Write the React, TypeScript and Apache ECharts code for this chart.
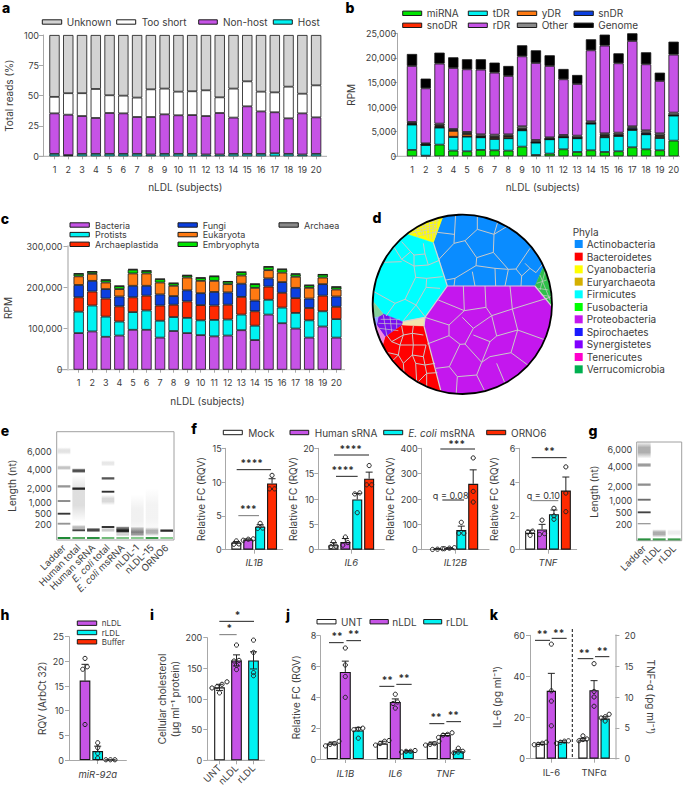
import React, { useEffect, useRef } from "react";
import * as echarts from "echarts";

const FONT = "Inter";
const TXT = "#3c3c3c";
const AX = "#a8a8a8";
const PURPLE = "#c653e6";
const CYAN = "#00f2f2";
const RED = "#ff2a00";
const GREEN = "#00e400";
const ORANGE = "#ff7a12";
const BLUE = "#0b3fe0";
const SUBJECTS = Array.from({ length: 20 }, (_, i) => String(i + 1));

// panel a
const aHost = [2, 1, 2, 2, 2, 2, 2, 1.5, 2, 2, 2, 1.5, 1.5, 2, 2, 2, 2.5, 2, 1.5, 2];
const aNonHost = [33.4, 33.3, 31.2, 29.6, 33.7, 33.4, 30.4, 30.9, 32.6, 31.8, 32, 31.7, 34.2, 29.9, 39.2, 35, 33.8, 29.3, 33.9, 30.1];
const aTooShort = [13.6, 17.7, 18.8, 23.9, 14.6, 14.6, 16, 22.8, 21.2, 19.5, 19.6, 21.2, 12.9, 23.9, 20.6, 16.3, 16.4, 26.1, 16.2, 26.4];
const aUnknown = [51, 48, 48, 44.5, 49.7, 50, 51.6, 44.8, 44.2, 46.7, 46.4, 45.6, 51.4, 44.2, 38.2, 46.7, 47.3, 42.6, 48.4, 41.5];

// panel b
const bMiRNA = [1290, 130, 2370, 1150, 1020, 1290, 1220, 1150, 1960, 270, 540, 1420, 880, 1220, 880, 1020, 1830, 1420, 1220, 3180];
const bTDR = [5150, 2170, 3460, 2780, 2980, 2570, 2300, 2510, 3320, 2510, 2920, 2440, 2780, 5420, 2980, 3110, 3520, 3050, 2510, 5090];
const bSnoDR = [40, 20, 60, 40, 30, 30, 50, 40, 40, 20, 20, 20, 40, 20, 60, 30, 50, 50, 40, 30];
const bYDR = [100, 80, 250, 1200, 500, 100, 300, 350, 200, 40, 40, 40, 60, 30, 250, 150, 100, 80, 350, 30];
const bSnDR = [100, 40, 150, 80, 100, 80, 80, 60, 100, 60, 60, 60, 40, 40, 150, 100, 300, 230, 120, 30];
const bOther = [300, 200, 350, 300, 320, 400, 450, 360, 480, 420, 280, 360, 400, 380, 350, 400, 300, 450, 430, 520];
const bRDR = [11380, 11180, 12190, 12400, 12730, 13150, 12600, 11860, 14220, 15650, 14500, 11310, 10500, 14430, 17820, 14090, 17340, 13420, 10640, 11780];
const bGenome = [2440, 1970, 2240, 2170, 2040, 2100, 2040, 2030, 2240, 2570, 2170, 2100, 1830, 2240, 2240, 2030, 1560, 2440, 1690, 2640];

// panel c (thousands of RPM)
const cBacteria = [89, 93, 80, 83, 97, 97, 78, 94, 89, 84, 81, 83, 96, 72, 134, 113, 100, 78, 105, 78];
const cProtists = [52, 63, 49, 34, 43, 47, 41, 34, 37, 36, 40, 39, 38, 35, 36, 38, 38, 42, 37, 45];
const cArchaeplastida = [35, 34, 44, 37, 36, 36, 37, 30, 40, 37, 35, 36, 43, 35, 32, 36, 36, 30, 38, 30];
const cFungi = [30, 26, 23, 24, 28, 24, 27, 21, 27, 29, 33, 30, 32, 26, 20, 26, 25, 23, 28, 25];
const cEukaryota = [21, 17, 16, 18, 30, 30, 29, 25, 31, 30, 27, 20, 20, 31, 20, 23, 27, 26, 16, 17];
const cEmbryophyta = [6, 5, 6, 7, 9, 6, 8, 6, 5, 7, 11, 6, 8, 9, 8, 8, 6, 6, 7, 6];
const cArchaea = [1, 1, 1, 1, 2, 1, 1, 1, 1, 1, 1, 1, 1, 1, 1, 1, 2, 1, 1, 1];

// panel d: cells of the tessellated circle
const phyla: [string, string][] = [
  ["Actinobacteria", "#0a8cff"], ["Bacteroidetes", "#ff0000"], ["Cyanobacteria", "#ffff00"], ["Euryarchaeota", "#d4b000"],
  ["Firmicutes", "#00ffff"], ["Fusobacteria", "#00ff00"], ["Proteobacteria", "#c417ee"], ["Spirochaetes", "#1a1aff"],
  ["Synergistetes", "#8000ff"], ["Tenericutes", "#ff00cc"], ["Verrucomicrobia", "#00b050"],
];
const dRegions: [string, number[][]][] = [
  ["#0a8cff", [[277, 55], [270, 20], [400, 0], [600, 100], [620, 185], [578, 205], [555, 258], [292, 258], [250, 128]]],
  ["#ffff00", [[277, 55], [250, 128], [172, 103], [200, 60], [270, 20]]],
  ["#00ffff", [[172, 103], [250, 128], [292, 258], [225, 352], [158, 365], [100, 342], [70, 305], [30, 250], [100, 120]]],
  ["#2fc04a", [[578, 205], [555, 258], [606, 320], [640, 300], [620, 185]]],
  ["#c417ee", [[292, 258], [555, 258], [606, 320], [640, 320], [600, 500], [400, 620], [280, 620], [272, 570], [222, 378], [225, 352]]],
  ["#ff0000", [[155, 375], [222, 378], [272, 570], [280, 620], [100, 520], [70, 440], [98, 435], [105, 410]]],
  ["#f3e3ae", [[158, 365], [225, 352], [222, 378], [155, 375]]],
  ["#7a10ee", [[100, 342], [158, 365], [155, 375], [105, 410], [80, 375], [85, 350]]],
  ["#86cf9a", [[70, 305], [30, 310], [60, 355], [85, 350], [100, 342]]],
  ["#93a8ff", [[85, 350], [60, 355], [70, 395], [82, 395], [80, 375]]],
  ["#f08ae0", [[80, 375], [82, 395], [70, 395], [85, 445], [98, 435], [105, 410]]],
];
const dMajorEdges: number[][][] = [
  [[340, 258], [343, 332]], [[405, 258], [408, 322]], [[480, 258], [487, 327]], [[343, 332], [408, 322]], [[408, 322], [425, 347]],
  [[425, 347], [487, 327]], [[487, 327], [600, 292]], [[487, 327], [503, 390]], [[503, 390], [600, 425]], [[503, 390], [440, 408]],
  [[425, 347], [440, 408]], [[343, 332], [265, 300]], [[343, 332], [297, 375]], [[297, 375], [225, 352]], [[370, 385], [425, 347]],
  [[337, 352], [370, 385]], [[370, 385], [345, 432]], [[297, 375], [297, 407]], [[297, 407], [330, 433]], [[330, 433], [345, 432]],
  [[297, 407], [232, 432]], [[330, 433], [298, 500]], [[345, 432], [395, 487]], [[395, 487], [420, 425]], [[440, 408], [420, 425]],
  [[420, 425], [370, 405]], [[420, 470], [395, 487]], [[420, 470], [483, 458]], [[483, 458], [540, 500]], [[483, 458], [503, 390]],
  [[395, 487], [380, 525]], [[380, 525], [322, 530]], [[298, 500], [322, 530]], [[298, 500], [258, 505]], [[322, 530], [318, 590]],
  [[380, 525], [405, 575]], [[440, 490], [465, 550]],
  [[317, 40], [312, 130]], [[382, 40], [382, 88]], [[382, 88], [345, 122]], [[312, 130], [345, 122]], [[262, 97], [312, 103]],
  [[445, 60], [432, 103]], [[382, 88], [432, 103]], [[432, 103], [478, 75]], [[345, 122], [380, 173]], [[312, 130], [265, 180]],
  [[380, 173], [430, 157]], [[430, 157], [432, 103]], [[430, 157], [475, 208]], [[380, 173], [378, 197]], [[378, 197], [435, 205]],
  [[435, 205], [437, 258]], [[435, 205], [475, 208]], [[378, 197], [315, 235]], [[315, 235], [288, 240]], [[315, 235], [312, 258]],
  [[367, 215], [375, 258]], [[475, 208], [465, 258]], [[475, 208], [498, 207]], [[498, 207], [540, 145]], [[498, 207], [515, 228]],
  [[515, 228], [513, 258]], [[515, 228], [540, 205]], [[540, 205], [558, 218]], [[558, 218], [578, 192]], [[540, 205], [525, 190]],
  [[182, 155], [155, 178]], [[155, 178], [128, 135]], [[182, 155], [155, 125]], [[192, 165], [225, 162]], [[220, 130], [225, 162]],
  [[225, 162], [235, 195]], [[192, 165], [192, 198]], [[182, 155], [192, 165]], [[192, 198], [235, 195]], [[235, 195], [270, 180]],
  [[155, 178], [192, 198]], [[155, 185], [100, 187]], [[192, 198], [197, 232]], [[197, 232], [165, 298]], [[197, 232], [230, 235]],
  [[230, 235], [278, 230]], [[230, 235], [228, 262]], [[228, 262], [270, 265]], [[228, 262], [198, 315]], [[198, 315], [165, 298]],
  [[165, 298], [135, 310]], [[135, 310], [72, 275]], [[135, 310], [108, 348]], [[198, 315], [225, 350]], [[198, 315], [160, 362]],
  [[190, 378], [187, 400]], [[155, 378], [160, 405]], [[160, 405], [187, 400]], [[187, 400], [220, 405]], [[160, 405], [125, 425]],
  [[125, 425], [110, 405]], [[125, 425], [150, 435]], [[160, 405], [150, 435]], [[150, 435], [145, 465]], [[187, 400], [190, 435]],
  [[190, 435], [150, 435]], [[190, 435], [228, 435]], [[145, 465], [115, 458]], [[190, 435], [187, 465]], [[187, 465], [220, 470]],
  [[220, 470], [228, 435]], [[187, 465], [160, 490]], [[145, 465], [160, 490]], [[145, 465], [130, 480]], [[160, 490], [162, 518]],
  [[187, 465], [197, 490]], [[197, 490], [225, 495]], [[220, 470], [225, 495]], [[225, 495], [255, 490]], [[197, 490], [200, 545]],
  [[225, 495], [230, 520]], [[230, 520], [205, 545]], [[230, 520], [262, 518]], [[230, 520], [230, 565]],
];
const dMinorEdges: number[][][] = [
  [[205, 75], [215, 100]], [[225, 65], [232, 115]], [[250, 60], [248, 118]], [[190, 90], [255, 80]], [[200, 108], [262, 95]], [[215, 78], [262, 72]],
  [[190, 78], [205, 112]], [[215, 60], [222, 110]], [[238, 58], [240, 118]], [[262, 58], [255, 110]], [[180, 100], [262, 85]], [[205, 68], [268, 62]],
  [[85, 370], [155, 372]], [[100, 345], [110, 405]], [[120, 350], [125, 395]], [[140, 360], [140, 385]], [[88, 385], [145, 392]], [[92, 358], [150, 358]],
  [[560, 250], [590, 240]], [[570, 225], [600, 300]], [[565, 265], [595, 270]], [[585, 215], [570, 270]], [[575, 285], [605, 290]],
];

// panel e
const eLanes = ["Ladder", "Human total", "Human sRNA", "{i|E. coli} total", "{i|E. coli} msRNA", "nLDL-1", "nLDL-15", "ORNO6"];
const eBands = [
  [0, 168, 0.12, 10], [0, 218, 0.25, 6], [0, 274, 0.45, 4], [0, 318, 0.5, 3], [0, 356, 0.85, 3], [0, 386, 0.45, 3],
  [1, 227, 0.75, 6], [1, 281, 0.92, 4], [1, 310, 0.14, 70], [1, 398, 0.3, 7], [1, 406, 0.8, 3],
  [2, 405, 0.78, 6], [3, 205, 0.1, 8], [3, 250, 0.72, 4], [3, 290, 0.88, 3], [3, 315, 0.16, 14], [3, 396, 0.9, 3], [3, 405, 0.22, 6],
  [4, 400, 0.6, 5], [4, 407, 0.95, 6], [4, 418, 0.2, 5], [5, 405, 0.35, 9], [5, 415, 0.45, 9], [5, 360, 0.06, 60],
  [6, 410, 0.32, 12], [6, 350, 0.05, 70], [7, 407, 0.9, 4],
];
const eGreens = [[0, "#1f8a36"], [1, "#58ab62"], [2, "#2a9040"], [3, "#72bb7a"], [4, "#7fc487"], [5, "#8acb90"], [6, "#3f9c4e"], [7, "#8acb90"]];
const eTicks: [string, number][] = [["6,000", 168], ["4,000", 223], ["2,000", 280], ["1,000", 321], ["500", 356], ["200", 388]];

// panel g
const gLanes = ["Ladder", "nLDL", "rLDL"];
const gBands = [
  [0, 165, 0.34, 24], [0, 210, 0.42, 6], [0, 269, 0.48, 4], [0, 314, 0.62, 3], [0, 352, 0.8, 3], [0, 386, 0.42, 2],
  [1, 415, 0.35, 11], [2, 413, 0.08, 9],
];
const gGreens = [[0, "#2a9040"], [1, "#3f9c4e"], [2, "#3f9c4e"]];
const gTicks: [string, number][] = [["6,000", 162], ["4,000", 213], ["2,000", 274], ["1,000", 316], ["500", 352], ["200", 388]];

// panel f
const fGroups = [["Mock", "#ffffff"], ["Human sRNA", PURPLE], ["E. coli msRNA", CYAN], ["ORNO6", RED]];
const fIL1B = [1.05, 1.5, 3.4, 9.8];
const fIL1BErr = [0.15, 0.1, 0.3, 0.7];
const fIL1BPts = [[0.8, 0.85, 1.3], [1.4, 1.55, 1.6], [3.15, 3.2, 3.9], [9, 9, 11]];
const fIL6 = [0.9, 1.5, 9.9, 14];
const fIL6Err = [0.5, 0.7, 1.2, 1.3];
const fIL6Pts = [[0.6, 0.7, 1.6], [0.9, 1.4, 2.5], [7.3, 11, 11.2], [12.8, 12.8, 16.6]];
const fIL12B = [3, 6, 78, 260];
const fIL12BErr = [2, 2, 15, 55];
const fIL12BPts = [[1, 2, 4], [4, 6, 8], [65, 65, 108], [188, 230, 362]];
const fTNF = [1.0, 1.2, 2.1, 3.5];
const fTNFErr = [0.15, 0.3, 0.25, 0.8];
const fTNFPts = [[0.85, 1.05, 1.1], [0.9, 0.95, 1.75], [1.8, 2, 2.45], [2.25, 3.35, 4.9]];

// panel h
const hGroups = [["nLDL", PURPLE], ["rLDL", CYAN], ["Buffer", RED]];
const hValues = [16.1, 1.8, 0.05];
const hErr = [3.3, 1.0, 0];
const hPts = [[7.2, 18.4, 18.9, 20.6], [0.4, 1.35, 2.5, 3.5], [0.05, 0.05, 0.05]];

// panel i
const iCats = ["UNT", "nLDL", "rLDL"];
const iValues = [119, 163, 163];
const iErr = [5, 9, 14];
const iPts = [[110, 118, 120, 124, 128], [148, 155, 162, 163, 188], [138, 143, 176, 196]];

// panel j
const jCats = ["IL1B", "IL6", "TNF"];
const jUNT = [1, 1, 1];
const jNLDL = [5.65, 3.7, 1.55];
const jRLDL = [1.85, 0.5, 0.5];
const jUNTErr = [0.1, 0.15, 0.1];
const jNLDLErr = [0.7, 0.2, 0.1];
const jRLDLErr = [0.2, 0.05, 0.1];
const jUNTPts = [[0.85, 0.95, 1, 1.15], [0.9, 1, 1.15, 1.2], [0.9, 0.95, 1, 1.15]];
const jNLDLPts = [[4.0, 5.35, 6.1, 7.2], [3.3, 3.6, 3.7, 4.2], [1.4, 1.55, 1.6, 1.7]];
const jRLDLPts = [[1.35, 1.9, 1.95, 2.0], [0.45, 0.5, 0.5, 0.55], [0.4, 0.45, 0.5, 0.7]];

// panel k
const kCats = ["IL-6", "TNFα"];
const kIL6 = [7.2, 33, 8.2];
const kIL6Err = [0.5, 8.5, 0.5];
const kIL6Pts = [[6.8, 7, 7.5, 8], [16, 28, 33, 55.7], [7.5, 8, 8.5, 8.7]];
const kTNF = [3.0, 11.1, 6.5];
const kTNFErr = [0.3, 1.55, 0.3];
const kTNFPts = [[2.9, 3.1, 3.2, 3.7], [8.5, 10, 10.9, 15.4], [6.1, 6.6, 6.8, 7.2]];

const thousands = (v: number) => v.toLocaleString("en-US");

function buildOption() {
  const grid: any[] = [];
  const xAxis: any[] = [];
  const yAxis: any[] = [];
  const series: any[] = [];
  const graphic: any[] = [];

  const text = (x: number, y: number, t: string, o: any = {}) =>
    graphic.push({
      type: "text", x, y, rotation: o.rotation || 0, silent: true,
      style: {
        text: t, fill: o.fill || TXT, fontFamily: FONT, fontSize: o.size || 10, fontWeight: o.weight || 400,
        fontStyle: o.italic ? "italic" : "normal", align: o.align || "left", verticalAlign: "middle",
      },
    });
  const hline = (x1: number, x2: number, y: number, stroke = AX, lineWidth = 1) =>
    graphic.push({ type: "line", silent: true, shape: { x1, y1: y, x2, y2: y }, style: { stroke, lineWidth } });
  const swatch = (x0: number, x1: number, y: number, color: string) =>
    graphic.push({
      type: "rect", silent: true, shape: { x: x0, y: y - 2.2, width: x1 - x0, height: 4.4 },
      style: { fill: color, stroke: "#1a1a1a", lineWidth: 1 },
    });
  const legend = (x0: number, x1: number, tx: number, y: number, color: string, t: string, size = 10) => {
    swatch(x0, x1, y, color);
    text(tx, y, t, { size });
  };
  const panelLabel = (x: number, y: number, t: string) =>
    text(x, y, t, { size: 14, weight: 800, fill: "#000", align: "center" });
  const sig = (ox: number, oy: number, r: any[]) => {
    const [x1, x2, y, tx, ty, t, col] = r;
    hline(ox + x1 / 3, ox + x2 / 3, oy + y / 3, col || "#222", 1);
    const star = t[0] === "*";
    text(ox + tx / 3, oy + ty / 3 + (star ? 2 : 0), t, { align: "center", size: star ? 10 : 9, weight: star ? 700 : 400, fill: "#333" });
  };

  const yAxisBase = (g: number, o: any) => ({
    gridIndex: g, type: "value", min: 0, max: o.yMax, interval: o.yInterval,
    position: o.yPos || "left", offset: o.yOffset || 0, splitLine: { show: false },
    axisLine: { show: true, lineStyle: { color: o.yLine || AX, width: o.yLineW || 1 } },
    axisTick: { show: true, length: 4, lineStyle: { color: AX } },
    axisLabel: { color: TXT, fontFamily: FONT, fontSize: 9, margin: o.yMargin ?? 4, formatter: o.yFmt || thousands },
    name: o.yName, nameLocation: "middle", nameGap: o.yNameGap, nameRotate: o.yPos === "right" ? -90 : 90,
    nameTextStyle: { color: TXT, fontFamily: FONT, fontSize: 10, lineHeight: 13 },
  });

  // stacked-bar panels a, b, c
  const stacked = (o: any) => {
    const g = grid.length;
    grid.push({ left: o.left, top: o.top, width: o.width, height: o.height });
    xAxis.push({
      gridIndex: g, type: "category", data: SUBJECTS,
      axisLine: { show: false }, axisTick: { show: true, alignWithLabel: true, length: 3, lineStyle: { color: AX } },
      axisLabel: { interval: 0, color: TXT, fontFamily: FONT, fontSize: 9, margin: o.xMargin ?? 8.5 },
      name: "nLDL (subjects)", nameLocation: "middle", nameGap: o.xNameGap,
      nameTextStyle: { color: TXT, fontFamily: FONT, fontSize: 10 },
    });
    yAxis.push(yAxisBase(g, o));
    hline(o.xLine[0], o.xLine[1], o.top + o.height);
    o.series.forEach((s: any) =>
      series.push({
        type: "bar", name: s[0], xAxisIndex: g, yAxisIndex: g, stack: "s" + g, barWidth: 10.3, data: s[2],
        itemStyle: { color: s[1], borderColor: "#141414", borderWidth: 0.8 },
      }),
    );
  };

  const errSeries = (g: number, n: number, step: number, rows: number[][], both: boolean) =>
    series.push({
      type: "custom", xAxisIndex: g, yAxisIndex: g, data: rows, encode: { x: 0, y: 1 }, z: 5, silent: true,
      renderItem: (_: any, api: any) => {
        const c = api.value(0), v = api.value(1), i = api.value(2), e = api.value(3);
        const dx = (i - (n - 1) / 2) * step;
        const p0 = api.coord([c, both ? v - e : v]);
        const p1 = api.coord([c, v + e]);
        const x = p0[0] + dx;
        const st = { stroke: "#222", lineWidth: 1, fill: "none" };
        const ch: any[] = [
          { type: "line", shape: { x1: x, y1: p0[1], x2: x, y2: p1[1] }, style: st },
          { type: "line", shape: { x1: x - 3.5, y1: p1[1], x2: x + 3.5, y2: p1[1] }, style: st },
        ];
        if (both) ch.push({ type: "line", shape: { x1: x - 3.5, y1: p0[1], x2: x + 3.5, y2: p0[1] }, style: st });
        return { type: "group", children: ch };
      },
    });

  const ptSeries = (g: number, n: number, step: number, rows: number[][]) =>
    series.push({
      type: "custom", xAxisIndex: g, yAxisIndex: g, data: rows, encode: { x: 0, y: 1 }, z: 6, silent: true,
      renderItem: (_: any, api: any) => {
        const p = api.coord([api.value(0), api.value(1)]);
        return {
          type: "circle",
          shape: { cx: p[0] + (api.value(2) - (n - 1) / 2) * step + api.value(3), cy: p[1], r: 2.1 },
          style: { fill: "none", stroke: "#222", lineWidth: 1 },
        };
      },
    });

  // spread points that nearly coincide sideways
  const spread = (vals: number[], perPx: number, sep: number) => {
    const sorted = [...vals].sort((a, b) => a - b);
    const out: [number, number][] = [];
    let i = 0;
    while (i < sorted.length) {
      let j = i + 1;
      while (j < sorted.length && (sorted[j] - sorted[j - 1]) / perPx < 3) j++;
      const m = j - i;
      for (let k = i; k < j; k++) out.push([sorted[k], (k - i - (m - 1) / 2) * sep]);
      i = j;
    }
    return out;
  };

  // grouped-bar panels f, h, i, j, k
  const grouped = (o: any) => {
    const g = grid.length;
    const height = o.bottom - o.top;
    grid.push({ left: o.left, top: o.top, width: o.right - o.left, height });
    xAxis.push({
      gridIndex: g, type: "category", data: o.cats, show: !o.hideX,
      axisLine: { show: !o.hideLine, lineStyle: { color: AX } },
      axisTick: { show: !o.hideTicks, alignWithLabel: true, length: 4, lineStyle: { color: AX } },
      axisLabel: {
        interval: 0, color: TXT, fontFamily: FONT, fontSize: o.xSize || 9.5, fontStyle: o.italic ? "italic" : "normal",
        rotate: o.rotate || 0, margin: o.xMargin ?? 8,
      },
    });
    yAxis.push(yAxisBase(g, o));
    const n = o.groups.length;
    const errRows: number[][] = [];
    const ptRows: number[][] = [];
    o.groups.forEach((gr: any, i: number) => {
      series.push({
        type: "bar", name: gr.name, xAxisIndex: g, yAxisIndex: g, barWidth: o.barWidth,
        barGap: ((o.step - o.barWidth) / o.barWidth) * 100 + "%",
        itemStyle: { color: gr.color, borderColor: "#141414", borderWidth: 1.1 },
        data: gr.values.map((v: any, c: number) =>
          gr.colors ? { value: v, itemStyle: { color: gr.colors[c], borderColor: "#141414", borderWidth: 1.1 } } : v,
        ),
      });
      gr.values.forEach((v: any, c: number) => {
        if (v == null) return;
        const e = gr.errors[c];
        if (e > 0) errRows.push([c, v, i, e]);
        spread(gr.points[c], o.yMax / height, o.sep || 5).forEach(([val, d]) => ptRows.push([c, val, i, d]));
      });
    });
    errSeries(g, n, o.step, errRows, !!o.errBoth);
    ptSeries(g, n, o.step, ptRows);
  };

  const gel = (o: any) => {
    const g = grid.length;
    grid.push({ left: o.left, top: o.top, width: o.width, height: o.height, show: true, borderColor: "#a0a0a0", borderWidth: 1, backgroundColor: "#fff", z: 1 });
    xAxis.push({
      gridIndex: g, type: "category", data: o.lanes, axisLine: { show: false }, axisTick: { show: false },
      axisLabel: {
        interval: 0, rotate: 45, margin: 6, color: TXT, fontFamily: FONT, fontSize: 9.5,
        rich: { i: { fontStyle: "italic", color: TXT, fontFamily: FONT, fontSize: 9.5 } },
      },
    });
    yAxis.push({ gridIndex: g, type: "value", min: o.yMin, max: o.yMax, inverse: true, show: false, splitLine: { show: false } });
    series.push({
      type: "custom", xAxisIndex: g, yAxisIndex: g, data: o.bands, encode: { x: 0, y: 1 }, silent: true, clip: true,
      renderItem: (_: any, api: any) => {
        const v = api.value(1), d = api.value(2), h = api.value(3) + 1.5;
        const top = api.coord([api.value(0), v - h]);
        const bot = api.coord([api.value(0), v + h]);
        const w = api.size([1, 0])[0] * 0.86;
        return {
          type: "rect", shape: { x: top[0] - w / 2, y: top[1], width: w, height: bot[1] - top[1] },
          style: {
            fill: new echarts.graphic.LinearGradient(0, 0, 0, 1, [
              { offset: 0, color: "rgba(20,20,20,0)" }, { offset: 0.35, color: `rgba(20,20,20,${d})` },
              { offset: 0.65, color: `rgba(20,20,20,${d})` }, { offset: 1, color: "rgba(20,20,20,0)" },
            ]),
          },
        };
      },
    });
    series.push({
      type: "custom", xAxisIndex: g, yAxisIndex: g, data: o.greens.map((r: any) => [r[0], o.greenY, r[1]]), encode: { x: 0, y: 1 }, silent: true,
      renderItem: (_: any, api: any) => {
        const p = api.coord([api.value(0), api.value(1)]);
        const w = api.size([1, 0])[0] * 0.86;
        return { type: "rect", shape: { x: p[0] - w / 2, y: p[1] - 1, width: w, height: 2 }, style: { fill: o.greens[api.value(0)][1] } };
      },
    });
    o.ticks.forEach((t: any) => text(o.tickX, o.oy + t[1] / 3, t[0], { size: 9, align: "right" }));
    text(o.titleX, o.titleY, "Length (nt)", { rotation: Math.PI / 2, align: "center" });
  };

  // ---- panel a
  stacked({
    left: 47.6, width: 275.4, top: 35, height: 121.3, yMax: 100, yInterval: 25, yOffset: 4.6, yName: "Total reads (%)", yNameGap: 27.5,
    yMargin: 4, xNameGap: 26, xLine: [39, 327],
    series: [["Host", CYAN, aHost], ["Non-host", PURPLE, aNonHost], ["Too short", "#ffffff", aTooShort], ["Unknown", "#d3d3d3", aUnknown]],
  });
  legend(42.3, 61.7, 66.7, 22, "#d3d3d3", "Unknown");
  legend(116.7, 135.7, 141.7, 22, "#ffffff", "Too short");
  legend(198.7, 217.3, 223, 22, PURPLE, "Non-host");
  legend(273.3, 292.3, 297.7, 22, CYAN, "Host");

  // ---- panel b
  stacked({
    left: 405.1, width: 275.4, top: 33.3, height: 123, yMax: 25000, yInterval: 5000, yOffset: 8, yName: "RPM", yNameGap: 40,
    yMargin: 1, xNameGap: 26, xLine: [393, 680],
    series: [
      ["miRNA", GREEN, bMiRNA], ["tDR", CYAN, bTDR], ["snoDR", RED, bSnoDR], ["yDR", ORANGE, bYDR], ["snDR", BLUE, bSnDR],
      ["Other", "#8a8a8a", bOther], ["rDR", PURPLE, bRDR], ["Genome", "#000000", bGenome],
    ],
  });
  const bLegendX = [[402.7, 421.7, 426.7], [468.3, 487.3, 492.7], [517.3, 536.7, 541.7], [574, 593.3, 598.3]];
  const bLegendRows: [string, string][][] = [
    [["miRNA", GREEN], ["tDR", CYAN], ["yDR", ORANGE], ["snDR", BLUE]],
    [["snoDR", RED], ["rDR", PURPLE], ["Other", "#8a8a8a"], ["Genome", "#000000"]],
  ];
  bLegendRows.forEach((row, r) =>
    row.forEach((it, i) => legend(bLegendX[i][0], bLegendX[i][1], bLegendX[i][2], r === 0 ? 13.3 : 25.3, it[1], it[0])),
  );

  // ---- panel c
  const k = (a: number[]) => a.map((v) => v * 1000);
  stacked({
    left: 67.1, width: 276, top: 246.3, height: 123.4, yMax: 300000, yInterval: 100000, yOffset: 4.4, yName: "RPM", yNameGap: 53.5,
    yMargin: 5, yLine: "#cfcfcf", yLineW: 2, xNameGap: 26, xMargin: 8, xLine: [58, 345],
    series: [
      ["Bacteria", PURPLE, k(cBacteria)], ["Protists", CYAN, k(cProtists)], ["Archaeplastida", RED, k(cArchaeplastida)],
      ["Fungi", BLUE, k(cFungi)], ["Eukaryota", ORANGE, k(cEukaryota)], ["Embryophyta", GREEN, k(cEmbryophyta)], ["Archaea", "#8a8a8a", k(cArchaea)],
    ],
  });
  legend(70, 89.3, 95, 225, PURPLE, "Bacteria", 9);
  legend(70, 89.3, 95, 234.6, CYAN, "Protists", 9);
  legend(70, 89.3, 95, 244.3, RED, "Archaeplastida", 9);
  legend(178, 197.3, 202.7, 225, BLUE, "Fungi", 9);
  legend(178, 197.3, 202.7, 234.6, ORANGE, "Eukaryota", 9);
  legend(178, 197.3, 202.7, 244.3, GREEN, "Embryophyta", 9);
  legend(279, 298.3, 304, 225, "#8a8a8a", "Archaea", 9);

  // ---- panel d
  const dg = grid.length;
  grid.push({ left: 350, top: 200, width: 335, height: 210 });
  xAxis.push({ gridIndex: dg, type: "value", min: 0, max: 1005, show: false, splitLine: { show: false } });
  yAxis.push({ gridIndex: dg, type: "value", min: 0, max: 630, inverse: true, show: false, splitLine: { show: false } });
  series.push({
    type: "custom", xAxisIndex: dg, yAxisIndex: dg, data: [[337, 313]], encode: { x: 0, y: 1 }, silent: true,
    renderItem: (_: any, api: any) => {
      const c = api.coord([337, 313]);
      const r = 269 / 3;
      const pts = (a: number[][]) => a.map((p) => api.coord(p));
      const kids: any[] = [];
      dRegions.forEach(([col, poly]) => kids.push({ type: "polygon", shape: { points: pts(poly) }, style: { fill: col, stroke: col, lineWidth: 0.4 } }));
      dMajorEdges.forEach((e) => kids.push({ type: "polyline", shape: { points: pts(e) }, style: { stroke: "#c9c9c9", lineWidth: 1, fill: "none" } }));
      dMinorEdges.forEach((e) => kids.push({ type: "polyline", shape: { points: pts(e) }, style: { stroke: "#c9c9c9", lineWidth: 0.7, fill: "none" } }));
      const boundaries = [[[292, 258], [555, 258]], [[292, 258], [250, 128]], [[292, 258], [225, 352]], [[225, 352], [222, 378]], [[222, 378], [272, 570]], [[158, 365], [225, 352]], [[555, 258], [606, 320]]];
      boundaries.forEach((e) => kids.push({ type: "polyline", shape: { points: pts(e) }, style: { stroke: "#d4d4d4", lineWidth: 1.2, fill: "none" } }));
      return {
        type: "group",
        children: [
          { type: "group", children: kids, clipPath: { type: "circle", shape: { cx: c[0], cy: c[1], r } } },
          { type: "circle", shape: { cx: c[0], cy: c[1], r }, style: { fill: "none", stroke: "#000", lineWidth: 1.8 } },
        ],
      };
    },
  });
  text(572.7, 232.3, "Phyla");
  const phylaY = [132, 170, 208, 245, 283, 321, 358, 396, 433, 471, 508];
  phyla.forEach(([name, col], i) => {
    const y = 200 + phylaY[i] / 3;
    graphic.push({ type: "rect", silent: true, shape: { x: 574.7, y: y - 4, width: 8, height: 8 }, style: { fill: col } });
    text(586.7, y, name);
  });

  // ---- panel e, g
  gel({ left: 56.7, top: 431.7, width: 117.3, height: 108.3, yMin: 110, yMax: 435, lanes: eLanes, bands: eBands, greens: eGreens, greenY: 429, ticks: eTicks, tickX: 51.7, oy: 395, titleX: 12, titleY: 485.7 });
  gel({ left: 636.7, top: 442, width: 45, height: 98.7, yMin: 141, yMax: 437, lanes: gLanes, bands: gBands, greens: gGreens, greenY: 433, ticks: gTicks, tickX: 632.3, oy: 395, titleX: 594, titleY: 491.7 });

  // ---- panel f
  const fPanels = [
    { cats: ["IL1B"], left: 225.7, right: 282.7, yMax: 15, yInterval: 5, v: fIL1B, e: fIL1BErr, p: fIL1BPts, gap: 18 },
    { cats: ["IL6"], left: 318.3, right: 384.3, yMax: 20, yInterval: 5, v: fIL6, e: fIL6Err, p: fIL6Pts, gap: 18 },
    { cats: ["IL12B"], left: 421.7, right: 489, yMax: 400, yInterval: 100, v: fIL12B, e: fIL12BErr, p: fIL12BPts, gap: 19 },
    { cats: ["TNF"], left: 519.3, right: 576.7, yMax: 6, yInterval: 2, v: fTNF, e: fTNFErr, p: fTNFPts, gap: 19 },
  ];
  fPanels.forEach((f) =>
    grouped({
      cats: f.cats, left: f.left, right: f.right, top: 448.3, bottom: 549.7, yMax: f.yMax, yInterval: f.yInterval, barWidth: 10, step: 11.9,
      yName: "Relative FC (RQV)", yNameGap: f.gap, italic: true, sep: 5, yMargin: 4, xMargin: 8,
      groups: fGroups.map((g, i) => ({ name: g[0], color: g[1], values: [f.v[i]], errors: [f.e[i]], points: [f.p[i]] })),
    }),
  );
  legend(223.3, 242.3, 248.3, 432.5, "#ffffff", "Mock");
  legend(290, 308.7, 314.7, 432.5, PURPLE, "Human sRNA");
  swatch(383.7, 402.7, 432.5, CYAN);
  text(408.3, 432.5, "E. coli", { italic: true });
  text(440, 432.5, "msRNA");
  legend(486.7, 505.7, 511, 432.5, RED, "ORNO6");
  const fSig: any[] = [
    [160, 222, 362, 190, 337, "***", "#777"], [155, 258, 224, 200, 198, "****"], [453, 518, 244, 473, 220, "****"], [447, 552, 180, 497, 155, "****"],
    [772, 837, 315, 797, 300, "q = 0.08"], [766, 870, 162, 815, 142, "***"],
  ];
  fSig.forEach((r) => sig(185, 395, r));
  const tnfSig: any[] = [[127, 205, 317, 160, 300, "q = 0.10", "#777"], [125, 230, 188, 178, 163, "**"]];
  tnfSig.forEach((r) => sig(490, 395, r));

  // ---- panel h
  grouped({
    cats: ["miR-92a"], left: 69, right: 126.4, top: 636.7, bottom: 760, yMax: 25, yInterval: 5, barWidth: 10.7, step: 12.7,
    yName: "RQV (ArbCt 32)", yNameGap: 20, italic: true, sep: 4.5, yMargin: 5, xMargin: 9,
    groups: hGroups.map((g, i) => ({ name: g[0], color: g[1], values: [hValues[i]], errors: [hErr[i]], points: [hPts[i]] })),
  });
  hGroups.forEach((g, i) => legend(77.3, 96.7, 101.7, [623.2, 632.5, 641.8][i], g[1], g[0], 8));

  // ---- panel i
  grouped({
    cats: iCats, left: 211, right: 262, top: 637.7, bottom: 760.3, yMax: 200, yInterval: 50, barWidth: 10.7, step: 10.7, yOffset: 3.7,
    yName: "Cellular cholesterol\n(μg ml⁻¹ protein)", yNameGap: 24, rotate: 45, sep: 5, yMargin: 5, xMargin: 6, errBoth: true,
    groups: [{ name: "i", color: "#fff", colors: ["#ffffff", PURPLE, CYAN], values: iValues, errors: iErr, points: iPts }],
  });
  hline(207.3, 265, 760.3);
  sig(0, 600, [658, 710, 104, 688, 78, "*", "#777"]);
  sig(0, 600, [658, 762, 64, 713, 38, "*"]);

  // ---- panel j
  grouped({
    cats: jCats, left: 320.3, right: 470.3, top: 635.7, bottom: 759, yMax: 8, yInterval: 2, barWidth: 11, step: 13,
    yName: "Relative FC (RQV)", yNameGap: 18, italic: true, sep: 4.5, yMargin: 4, xMargin: 9,
    groups: [
      { name: "UNT", color: "#ffffff", values: jUNT, errors: jUNTErr, points: jUNTPts },
      { name: "nLDL", color: PURPLE, values: jNLDL, errors: jNLDLErr, points: jNLDLPts },
      { name: "rLDL", color: CYAN, values: jRLDL, errors: jRLDLErr, points: jRLDLPts },
    ],
  });
  legend(317, 336, 341, 621.7, "#ffffff", "UNT");
  legend(370, 388.3, 392.3, 621.7, PURPLE, "nLDL");
  legend(423.7, 441.7, 446, 621.7, CYAN, "rLDL");
  const jSig: any[] = [
    [192, 236, 128, 216, 103, "**"], [244, 288, 122, 266, 97, "**"], [343, 388, 259, 367, 235, "**"], [394, 440, 253, 417, 229, "**"],
    [493, 538, 371, 513, 345, "**"], [544, 588, 365, 565, 339, "**"],
  ];
  jSig.forEach((r) => sig(265, 600, r));

  // ---- panel k
  const kGroupNames = [["UNT", "#ffffff"], ["nLDL", PURPLE], ["rLDL", CYAN]];
  grouped({
    cats: kCats, left: 530, right: 615.4, top: 635.3, bottom: 758.7, yMax: 60, yInterval: 20, barWidth: 9.3, step: 11.1,
    yName: "IL-6 (pg ml⁻¹)", yNameGap: 27, sep: 4, yMargin: 5, xMargin: 9,
    groups: kGroupNames.map((g, i) => ({ name: g[0], color: g[1], values: [kIL6[i], null], errors: [kIL6Err[i], 0], points: [kIL6Pts[i], []] })),
  });
  grouped({
    cats: kCats, left: 530, right: 615.4, top: 635.3, bottom: 758.7, yMax: 20, yInterval: 5, barWidth: 9.3, step: 11.1, hideX: true,
    yPos: "right", yLine: "#cfcfcf", yLineW: 2, yFmt: (v: number) => String(v), yName: "TNF-α (pg ml⁻¹)", yNameGap: 29, sep: 4, yMargin: 9,
    groups: kGroupNames.map((g, i) => ({ name: g[0], color: g[1], values: [null, kTNF[i]], errors: [0, kTNFErr[i]], points: [[], kTNFPts[i]] })),
  });
  graphic.push({ type: "line", silent: true, z: 10, shape: { x1: 572.3, y1: 629, x2: 572.3, y2: 758.7 }, style: { stroke: "#111", lineWidth: 1, lineDash: [3, 2] } });
  const kSig: any[] = [
    [810, 855, 121, 832, 97, "**"], [860, 905, 115, 881, 92, "**"], [938, 985, 176, 958, 154, "**"], [990, 1033, 170, 1012, 147, "**"],
  ];
  kSig.forEach((r) => sig(265, 600, r));

  const labels: [number, number, string][] = [
    [6, 7, "a"], [350, 7, "b"], [5, 218, "c"], [377, 217, "d"], [5, 430, "e"], [194, 428, "f"], [593, 430, "g"],
    [5, 614, "h"], [152, 614, "i"], [288, 614, "j"], [494, 614, "k"],
  ];
  labels.forEach((l) => panelLabel(l[0], l[1], l[2]));

  return { animation: false, backgroundColor: "#fff", grid, xAxis, yAxis, series, graphic: { elements: graphic } };
}

export default function App() {
  const ref = useRef<HTMLDivElement>(null);
  useEffect(() => {
    const chart = echarts.init(ref.current!, undefined, { renderer: "svg" });
    chart.setOption(buildOption() as any);
    return () => chart.dispose();
  }, []);
  return <div ref={ref} style={{ position: "absolute", left: 0, top: 0, width: 685, height: 792 }} />;
}
